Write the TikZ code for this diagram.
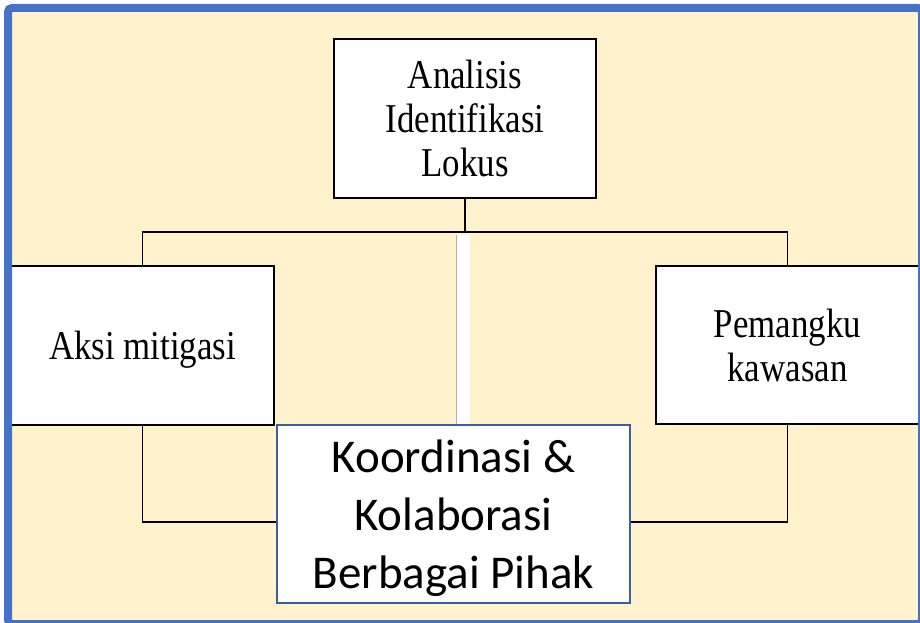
\documentclass[tikz,border=0pt]{standalone}
\usepackage{fontspec}
\newfontfamily\timescond[FakeStretch=0.85]{Liberation Serif}
\newfontfamily\calibri{Carlito}
\definecolor{sfondo}{HTML}{FFF2CC}
\definecolor{cornice}{HTML}{4472C4}
\definecolor{bordoblu}{HTML}{3A5DA3}
\definecolor{barra}{HTML}{B0B0B0}
\tikzset{
  casella/.style={draw=black, fill=white, line width=1.3pt, inner sep=0pt,
    align=center, text depth=0pt, font=\timescond\fontsize{41}{44}\selectfont},
  collega/.style={draw=black, line width=1.3pt},
}
\begin{document}
\begin{tikzpicture}[x=1pt, y=-1pt]
        \useasboundingbox (0,0) rectangle (920,623);
        \clip (0,0) rectangle (920,623);

        % Sfondo giallo della cornice
        \fill[sfondo] (8,8) rectangle (922,624);

        % Coordinate dei centri delle caselle
        \coordinate (alto) at (465,118.5);
        \coordinate (sinistra) at (142.5,345.5);
        \coordinate (destra) at (787.5,345);
        \coordinate (centro) at (453.5,514);
        \coordinate (snodo) at (465,232);   % punto di diramazione
        \coordinate (barratop) at (463,235);
        \coordinate (barrabot) at (463,425);

        % Caselle con il testo
        \node[casella, minimum width=262pt, minimum height=159pt] (lokus) at (alto) {Analisis\\Identifikasi\\Lokus};
        \node[casella, minimum width=263pt, minimum height=159pt] (aksi) at (sinistra) {Aksi mitigasi};
        \node[casella, minimum width=263pt, minimum height=158pt] (pemangku) at (destra) {Pemangku\\kawasan};

        % Collegamenti dall'alto
        \draw[collega] (lokus.south) -- (snodo);
        \draw[collega] (aksi.north) |- (snodo) -| (pemangku.north);

        % Barra bianca verso la casella centrale
        \draw[draw=barra, line width=0.9pt, double=white, double distance=13pt] (barratop) -- (barrabot);

        % Casella centrale (bordo blu)
        \node[casella, draw=bordoblu, line width=2pt, minimum width=353pt, minimum height=178pt,
              font=\calibri\fontsize{47}{58}\selectfont] (kolab) at (centro) {Koordinasi \&\\Kolaborasi\\Berbagai Pihak};

        % Collegamenti dal basso
        \draw[collega] (aksi.south) |- ([yshift=-8pt]kolab.west);
        \draw[collega] (pemangku.south) |- ([yshift=-8pt]kolab.east);

        % Bordo blu della cornice
        \draw[cornice, line width=8pt, rounded corners=4pt] (8,8) rectangle (922,624);
    \end{tikzpicture}
\end{document}
